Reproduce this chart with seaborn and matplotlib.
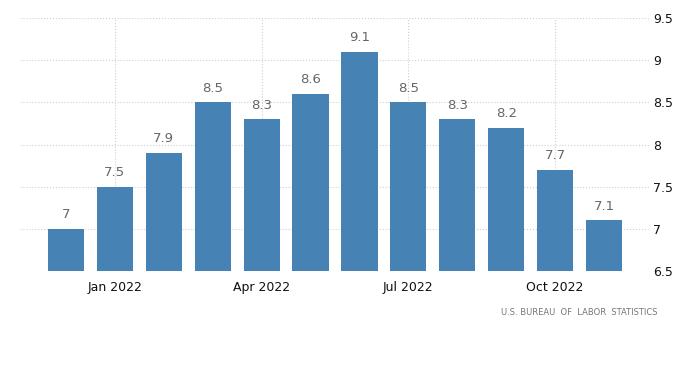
import pandas as pd
import matplotlib.pyplot as plt
import seaborn as sns

# CPI inflation rate by month
months = ['Dec 2021', 'Jan 2022', 'Feb 2022', 'Mar 2022', 'Apr 2022', 'May 2022',
          'Jun 2022', 'Jul 2022', 'Aug 2022', 'Sep 2022', 'Oct 2022', 'Nov 2022']
values = [7.0, 7.5, 7.9, 8.5, 8.3, 8.6, 9.1, 8.5, 8.3, 8.2, 7.7, 7.1]
value_labels = ['7', '7.5', '7.9', '8.5', '8.3', '8.6', '9.1', '8.5', '8.3', '8.2', '7.7', '7.1']
tick_labels = ['Jan 2022', 'Apr 2022', 'Jul 2022', 'Oct 2022']
y_ticks = [6.5, 7, 7.5, 8, 8.5, 9, 9.5]
y_tick_labels = ['6.5', '7', '7.5', '8', '8.5', '9', '9.5']

df = pd.DataFrame({'month': months, 'value': values})

sns.set_style('white')
plt.rcParams['font.family'] = ['DejaVu Sans']

fig = plt.figure(figsize=(7, 3.65), dpi=100)
ax = fig.add_axes([0.0286, 0.2575, 0.9, 0.6932])

sns.barplot(data=df, x='month', y='value', color='#4682b4', saturation=1,
            width=0.74, linewidth=0, ax=ax, zorder=3)

# value labels above bars
for i, (v, lab) in enumerate(zip(values, value_labels)):
    ax.text(i, v + 0.09, lab, ha='center', va='bottom', fontsize=9.5, color='#666666')

ax.set_ylim(6.5, 9.5)
ax.set_xlim(-0.94, 11.94)

# right-side y axis
ax.yaxis.tick_right()
ax.set_yticks(y_ticks)
ax.set_yticklabels(y_tick_labels, fontsize=9, color='#111111')
ax.tick_params(axis='y', length=0, pad=2)

tick_pos = [months.index(t) for t in tick_labels]
ax.set_xticks(tick_pos)
ax.set_xticklabels(tick_labels, fontsize=9, color='#111111')
ax.tick_params(axis='x', length=4, color='#cccccc', pad=3)

ax.set_xlabel('')
ax.set_ylabel('')
ax.grid(True, axis='both', linestyle=':', color='#d0d0d0', linewidth=0.8, zorder=0)
ax.set_axisbelow(True)
for s in ax.spines.values():
    s.set_visible(False)

fig.text(0.9386, 0.145, 'U.S. BUREAU  OF  LABOR  STATISTICS', ha='right', va='center',
         fontsize=6, color='#777777')

fig.savefig('out.png', dpi=100)
